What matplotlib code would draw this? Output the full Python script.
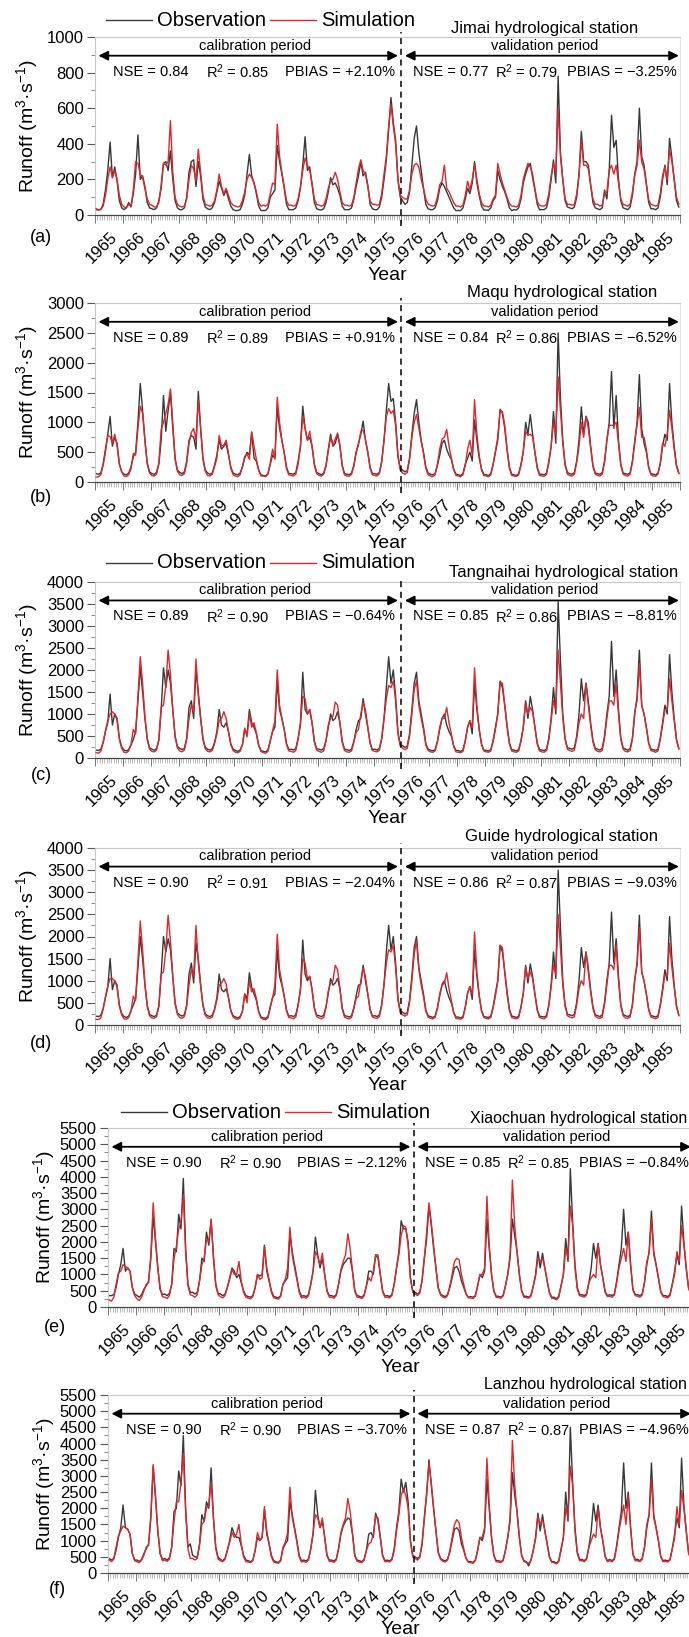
import numpy as np
import matplotlib
matplotlib.use("Agg")
import matplotlib.pyplot as plt
from matplotlib.lines import Line2D
from matplotlib.ticker import MultipleLocator, FixedLocator, NullFormatter

plt.rcParams['font.family'] = ['Liberation Sans', 'DejaVu Sans']
plt.rcParams['mathtext.fontset'] = 'custom'
plt.rcParams['mathtext.rm'] = 'Liberation Sans'
plt.rcParams['mathtext.it'] = 'Liberation Sans:italic'
plt.rcParams['mathtext.bf'] = 'Liberation Sans:bold'

W, H = 689, 1637
years = list(range(1965, 1986))

# monthly runoff (m3/s), Jan..Dec for each year 1965-1985
jimai_obs = [
    30, 28, 32, 60, 140, 250, 410, 210, 270, 190, 80, 40,
    30, 40, 70, 45, 120, 230, 450, 200, 220, 160, 70, 40,
    35, 30, 40, 80, 150, 290, 300, 250, 360, 200, 80, 40,
    30, 30, 40, 100, 240, 300, 310, 160, 300, 220, 90, 45,
    35, 30, 40, 70, 130, 190, 150, 110, 140, 90, 50, 30,
    25, 25, 30, 60, 110, 230, 340, 220, 180, 120, 50, 25,
    25, 25, 40, 100, 120, 140, 390, 300, 230, 150, 60, 30,
    30, 30, 40, 80, 150, 280, 440, 250, 270, 170, 70, 35,
    30, 28, 35, 70, 130, 210, 170, 180, 150, 110, 50, 30,
    30, 30, 40, 90, 160, 220, 300, 220, 240, 170, 60, 35,
    30, 30, 45, 100, 200, 310, 480, 660, 520, 420, 200, 100,
    80, 60, 70, 130, 280, 430, 500, 350, 250, 150, 60, 35,
    30, 30, 40, 80, 150, 180, 160, 130, 100, 70, 40, 25,
    25, 25, 40, 90, 150, 120, 180, 300, 180, 110, 50, 28,
    28, 26, 40, 80, 100, 250, 200, 160, 130, 90, 40, 25,
    30, 28, 40, 90, 180, 230, 270, 290, 210, 140, 60, 30,
    30, 30, 40, 100, 200, 310, 180, 780, 350, 200, 80, 45,
    40, 35, 45, 100, 230, 470, 300, 300, 280, 170, 70, 40,
    35, 30, 40, 140, 90, 250, 560, 380, 420, 200, 80, 40,
    35, 30, 45, 110, 230, 300, 600, 330, 280, 180, 70, 35,
    35, 30, 40, 100, 200, 280, 170, 430, 320, 200, 80, 45,
]
jimai_sim = [
    35, 30, 30, 50, 110, 200, 270, 210, 250, 200, 110, 60,
    45, 40, 60, 50, 140, 300, 290, 230, 210, 150, 90, 60,
    55, 45, 45, 70, 170, 290, 280, 300, 530, 240, 100, 60,
    50, 45, 50, 90, 200, 280, 260, 190, 370, 240, 110, 60,
    55, 50, 55, 80, 140, 230, 160, 120, 150, 110, 70, 55,
    50, 45, 50, 80, 130, 200, 230, 210, 180, 130, 70, 50,
    55, 50, 60, 120, 180, 170, 510, 330, 240, 160, 80, 55,
    55, 50, 55, 90, 160, 250, 320, 280, 250, 180, 90, 60,
    55, 50, 55, 90, 150, 190, 200, 240, 200, 130, 70, 55,
    55, 50, 55, 100, 180, 260, 310, 250, 230, 160, 80, 60,
    60, 55, 60, 120, 230, 330, 500, 620, 500, 400, 200, 110,
    100, 90, 90, 140, 230, 280, 290, 270, 200, 150, 90, 60,
    55, 50, 55, 100, 170, 190, 280, 150, 130, 100, 70, 50,
    50, 45, 55, 110, 190, 140, 200, 280, 200, 120, 70, 50,
    50, 45, 55, 90, 110, 290, 230, 180, 140, 100, 65, 50,
    50, 45, 55, 110, 200, 250, 290, 270, 230, 150, 75, 55,
    50, 50, 60, 120, 220, 290, 240, 600, 330, 200, 90, 60,
    60, 55, 60, 120, 220, 420, 280, 280, 260, 170, 90, 60,
    60, 50, 55, 120, 130, 250, 280, 230, 280, 180, 90, 60,
    55, 50, 60, 130, 220, 280, 420, 300, 260, 170, 85, 60,
    55, 50, 55, 120, 220, 270, 200, 370, 300, 200, 100, 60,
]
maqu_obs = [
    140, 130, 150, 300, 550, 800, 1100, 600, 750, 650, 300, 170,
    130, 120, 150, 250, 420, 500, 1000, 1650, 1200, 700, 320, 170,
    140, 130, 160, 300, 700, 1450, 850, 1200, 1500, 900, 400, 200,
    160, 140, 170, 350, 700, 780, 750, 550, 1520, 900, 400, 200,
    150, 130, 150, 280, 450, 700, 550, 600, 650, 450, 250, 150,
    130, 120, 150, 250, 400, 500, 450, 830, 400, 350, 200, 120,
    110, 100, 140, 300, 450, 400, 1250, 900, 700, 500, 250, 140,
    140, 130, 160, 350, 600, 1270, 900, 700, 750, 600, 300, 160,
    140, 120, 150, 280, 550, 800, 600, 650, 800, 600, 280, 140,
    130, 120, 150, 280, 500, 650, 800, 1020, 700, 500, 250, 140,
    140, 130, 160, 350, 700, 1200, 1650, 1350, 1400, 1000, 450, 220,
    200, 170, 190, 400, 800, 1150, 1380, 1000, 700, 500, 250, 150,
    130, 120, 140, 280, 450, 650, 700, 550, 450, 380, 220, 130,
    120, 110, 140, 300, 400, 500, 350, 1040, 700, 400, 220, 130,
    120, 110, 140, 300, 500, 700, 1220, 1150, 900, 550, 250, 130,
    120, 110, 140, 300, 500, 1000, 800, 1130, 800, 500, 250, 130,
    130, 120, 150, 350, 600, 1180, 650, 2500, 1400, 700, 300, 160,
    140, 130, 160, 350, 700, 1260, 800, 1100, 1000, 600, 280, 150,
    140, 130, 160, 350, 700, 1000, 1850, 900, 1450, 700, 300, 150,
    140, 130, 150, 350, 650, 1000, 1800, 900, 650, 500, 250, 140,
    130, 120, 150, 300, 600, 800, 700, 1650, 1000, 600, 280, 150,
]
maqu_sim = [
    80, 90, 120, 280, 500, 780, 760, 650, 800, 600, 300, 170,
    100, 90, 120, 220, 480, 450, 900, 1270, 1150, 700, 300, 150,
    110, 100, 130, 320, 880, 1000, 1150, 1300, 1560, 1000, 380, 180,
    120, 110, 140, 320, 650, 830, 900, 700, 1380, 900, 380, 180,
    110, 100, 130, 260, 400, 780, 600, 620, 700, 480, 230, 120,
    100, 90, 120, 260, 430, 470, 380, 840, 600, 380, 200, 100,
    100, 90, 130, 320, 550, 380, 1420, 1000, 700, 480, 220, 120,
    110, 100, 130, 300, 600, 1100, 900, 700, 850, 600, 280, 140,
    110, 100, 130, 260, 520, 750, 620, 720, 820, 620, 260, 120,
    100, 95, 130, 260, 500, 620, 850, 870, 720, 500, 230, 120,
    110, 100, 140, 330, 700, 1100, 1230, 1150, 1200, 950, 420, 200,
    150, 130, 160, 380, 750, 1000, 1130, 900, 680, 480, 230, 120,
    100, 90, 120, 300, 550, 720, 750, 880, 600, 400, 200, 110,
    100, 90, 120, 280, 550, 700, 450, 1380, 800, 450, 200, 110,
    100, 90, 120, 290, 520, 750, 1200, 1180, 950, 550, 230, 110,
    100, 95, 120, 280, 520, 850, 780, 800, 760, 500, 230, 110,
    100, 95, 130, 320, 600, 1000, 800, 1760, 1200, 650, 280, 130,
    110, 100, 130, 330, 600, 1000, 750, 1100, 900, 580, 260, 130,
    110, 100, 130, 330, 700, 950, 950, 950, 1000, 650, 280, 130,
    110, 100, 130, 330, 700, 950, 1250, 750, 750, 550, 240, 120,
    100, 95, 130, 320, 650, 600, 800, 1200, 900, 550, 260, 140,
]
tangnaihai_obs = [
    180, 170, 200, 350, 600, 800, 1450, 750, 1000, 900, 450, 250,
    180, 160, 190, 300, 420, 600, 1300, 2050, 1500, 900, 450, 230,
    200, 180, 210, 400, 1100, 2050, 1600, 2000, 1700, 1100, 500, 260,
    220, 190, 220, 450, 1150, 1300, 900, 2000, 1500, 900, 450, 240,
    200, 180, 210, 350, 600, 1100, 750, 700, 800, 600, 320, 200,
    170, 150, 180, 300, 650, 550, 1100, 800, 700, 550, 300, 170,
    150, 140, 180, 400, 600, 700, 1750, 1100, 900, 650, 330, 190,
    200, 180, 220, 450, 800, 1950, 1100, 1000, 1100, 800, 380, 210,
    200, 180, 210, 400, 700, 1000, 850, 900, 1050, 800, 380, 200,
    190, 170, 200, 380, 650, 850, 900, 1350, 1000, 700, 350, 190,
    200, 180, 220, 450, 900, 1600, 2300, 1700, 2000, 1400, 600, 300,
    280, 240, 270, 550, 1100, 1700, 1950, 1300, 1000, 700, 330, 200,
    180, 160, 190, 380, 650, 900, 1000, 750, 600, 500, 280, 170,
    170, 150, 180, 400, 700, 850, 550, 1700, 1100, 650, 320, 180,
    170, 160, 190, 400, 700, 1000, 1750, 1600, 1200, 750, 350, 190,
    180, 160, 190, 400, 700, 1300, 900, 1400, 1100, 700, 340, 190,
    180, 170, 200, 450, 900, 1600, 1000, 3550, 2200, 1000, 450, 230,
    220, 200, 230, 500, 1000, 1800, 1300, 1700, 1300, 800, 400, 220,
    200, 180, 220, 500, 1000, 1400, 2650, 1400, 2000, 1100, 450, 230,
    200, 180, 210, 450, 1000, 1400, 2450, 1200, 1000, 700, 350, 200,
    190, 170, 200, 450, 800, 1200, 1000, 2350, 1500, 900, 420, 220,
]
tangnaihai_sim = [
    120, 110, 150, 350, 620, 850, 1000, 1050, 1000, 850, 420, 220,
    130, 120, 160, 300, 650, 550, 1400, 2300, 1700, 950, 420, 200,
    150, 140, 180, 420, 1150, 1200, 1650, 2450, 1900, 1100, 480, 230,
    160, 140, 180, 420, 900, 1200, 1050, 2250, 1400, 900, 420, 210,
    150, 140, 170, 330, 550, 850, 900, 1050, 900, 600, 300, 170,
    130, 120, 150, 300, 680, 480, 1000, 700, 800, 580, 280, 150,
    120, 110, 150, 380, 600, 850, 2000, 1200, 900, 650, 300, 160,
    150, 130, 170, 430, 750, 1400, 1350, 1000, 1100, 800, 360, 180,
    150, 130, 160, 380, 750, 900, 950, 1270, 1200, 800, 350, 170,
    140, 130, 160, 360, 580, 650, 1000, 1250, 1100, 700, 330, 170,
    150, 140, 180, 430, 900, 1350, 1650, 1600, 1750, 1300, 550, 270,
    220, 190, 220, 500, 1000, 1550, 1750, 1200, 900, 650, 300, 170,
    140, 130, 160, 360, 700, 900, 900, 1150, 800, 550, 260, 140,
    130, 120, 150, 380, 700, 850, 700, 2050, 1200, 650, 300, 160,
    140, 130, 160, 380, 650, 1000, 1720, 1700, 1200, 700, 320, 160,
    140, 130, 160, 380, 700, 1250, 1000, 1150, 1050, 700, 320, 160,
    140, 130, 170, 420, 850, 1300, 1100, 2450, 1700, 900, 420, 200,
    170, 150, 180, 450, 800, 1000, 900, 1700, 1200, 750, 360, 190,
    150, 140, 170, 460, 900, 1300, 1300, 1200, 1700, 1000, 420, 200,
    150, 140, 170, 430, 1050, 1300, 2150, 1200, 1000, 700, 330, 170,
    150, 130, 160, 420, 750, 1100, 1100, 1800, 1300, 850, 400, 200,
]
guide_obs = [
    200, 190, 220, 370, 620, 850, 1500, 800, 1000, 900, 450, 260,
    190, 170, 200, 320, 450, 600, 1300, 2000, 1500, 900, 450, 240,
    210, 190, 220, 420, 1150, 2000, 1650, 1950, 1700, 1100, 500, 270,
    230, 200, 230, 460, 1150, 1400, 950, 1850, 1500, 900, 460, 250,
    210, 190, 220, 360, 620, 1150, 800, 750, 820, 620, 330, 210,
    180, 160, 190, 310, 700, 600, 1180, 850, 700, 560, 310, 180,
    160, 150, 190, 420, 620, 700, 1700, 1100, 900, 650, 340, 200,
    210, 190, 230, 460, 820, 1920, 1150, 1000, 1100, 800, 390, 220,
    210, 190, 220, 410, 720, 1050, 900, 950, 1050, 820, 390, 210,
    200, 180, 210, 390, 660, 900, 920, 1350, 1000, 700, 360, 200,
    210, 190, 230, 460, 920, 1650, 2250, 1700, 2000, 1400, 600, 310,
    290, 250, 280, 560, 1100, 1750, 2000, 1300, 1000, 700, 340, 210,
    190, 170, 200, 390, 660, 920, 1000, 780, 620, 500, 290, 180,
    180, 160, 190, 410, 720, 870, 580, 1700, 1100, 660, 330, 190,
    180, 170, 200, 410, 720, 1000, 1800, 1650, 1200, 760, 360, 200,
    190, 170, 200, 410, 720, 1350, 950, 1380, 1100, 700, 350, 200,
    190, 180, 210, 460, 920, 1650, 1050, 3500, 2200, 1000, 460, 240,
    230, 210, 240, 510, 1000, 1750, 1300, 1650, 1300, 800, 410, 230,
    210, 190, 230, 510, 1000, 1400, 2550, 1400, 1950, 1100, 460, 240,
    210, 190, 220, 460, 1000, 1400, 2480, 1200, 1000, 700, 360, 210,
    200, 180, 210, 460, 820, 1250, 1000, 2450, 1500, 900, 430, 230,
]
guide_sim = [
    130, 120, 160, 360, 640, 880, 1050, 1050, 1000, 850, 420, 230,
    140, 130, 170, 310, 650, 560, 1450, 2350, 1700, 950, 420, 210,
    160, 150, 190, 430, 1150, 1200, 1700, 2480, 1900, 1100, 480, 240,
    170, 150, 190, 430, 900, 1250, 1100, 2250, 1400, 900, 430, 220,
    160, 150, 180, 340, 560, 900, 950, 1050, 920, 620, 310, 180,
    140, 130, 160, 310, 700, 500, 1000, 750, 820, 600, 290, 160,
    130, 120, 160, 390, 620, 900, 2050, 1250, 950, 660, 310, 170,
    160, 140, 180, 440, 780, 1500, 1400, 1050, 1100, 800, 370, 190,
    160, 140, 170, 390, 770, 950, 1000, 1350, 1250, 820, 360, 180,
    150, 140, 170, 370, 600, 650, 1000, 1280, 1100, 700, 340, 180,
    160, 150, 190, 440, 920, 1400, 1700, 1650, 1800, 1300, 560, 280,
    230, 200, 230, 510, 1000, 1600, 1900, 1250, 900, 650, 310, 180,
    150, 140, 170, 370, 700, 900, 950, 1180, 820, 560, 270, 150,
    140, 130, 160, 390, 720, 870, 700, 2100, 1200, 660, 310, 170,
    150, 140, 170, 390, 660, 1000, 1800, 1750, 1200, 700, 330, 170,
    150, 140, 170, 390, 720, 1300, 1050, 1200, 1050, 700, 330, 170,
    150, 140, 180, 430, 870, 1350, 1150, 2500, 1750, 900, 430, 210,
    180, 160, 190, 460, 820, 1000, 900, 1650, 1200, 750, 370, 200,
    160, 150, 180, 470, 920, 1350, 1350, 1250, 1800, 1000, 430, 210,
    160, 150, 180, 440, 1050, 1350, 2200, 1200, 1000, 700, 340, 180,
    160, 140, 170, 430, 760, 1150, 1100, 1850, 1300, 850, 410, 210,
]
xiaochuan_obs = [
    350, 350, 380, 600, 1000, 1300, 1800, 1100, 1200, 1100, 600, 400,
    350, 300, 380, 550, 650, 800, 1500, 2800, 2000, 1200, 550, 380,
    400, 350, 420, 700, 1800, 1700, 2850, 2400, 3950, 1800, 700, 450,
    450, 400, 450, 800, 1500, 1400, 2300, 1900, 2700, 1500, 700, 420,
    400, 350, 400, 600, 900, 1200, 1100, 900, 1000, 750, 500, 350,
    320, 300, 350, 600, 1000, 950, 1000, 1900, 1100, 800, 500, 330,
    300, 280, 350, 700, 800, 900, 2200, 1700, 1300, 900, 500, 330,
    350, 320, 380, 700, 1100, 2150, 1600, 1200, 1500, 1000, 500, 350,
    350, 320, 380, 700, 1100, 1300, 1400, 1500, 1500, 1100, 500, 350,
    330, 300, 370, 650, 1100, 1100, 1000, 1600, 1500, 1000, 500, 340,
    350, 320, 380, 700, 1200, 1700, 2650, 2400, 2400, 2000, 900, 500,
    450, 400, 450, 800, 1500, 2100, 3100, 2500, 1800, 1200, 600, 400,
    350, 320, 380, 600, 900, 1200, 1250, 1100, 800, 600, 400, 300,
    320, 300, 350, 650, 1000, 900, 1100, 2700, 1800, 1000, 500, 330,
    330, 300, 360, 650, 1000, 1500, 2700, 2200, 1700, 1000, 500, 330,
    330, 300, 360, 650, 1000, 1700, 1200, 1650, 1200, 800, 450, 300,
    300, 250, 330, 650, 1000, 2100, 1400, 4250, 2600, 1300, 600, 380,
    380, 350, 400, 750, 1200, 1950, 1500, 1950, 1300, 900, 480, 350,
    380, 350, 400, 800, 1300, 1800, 3000, 1900, 2300, 1300, 550, 380,
    380, 350, 400, 750, 1300, 1700, 2950, 1700, 1300, 900, 480, 350,
    350, 320, 380, 700, 1100, 1600, 1300, 3100, 2000, 1200, 600, 400,
]
xiaochuan_sim = [
    220, 180, 300, 700, 1050, 1100, 1300, 1250, 1200, 1100, 600, 350,
    250, 200, 300, 500, 700, 750, 1600, 3200, 2100, 1200, 550, 320,
    300, 260, 350, 700, 1500, 1850, 2400, 2600, 3450, 1700, 650, 380,
    350, 300, 380, 800, 1300, 1500, 2100, 2000, 2650, 1600, 650, 380,
    320, 280, 350, 600, 850, 1150, 1000, 1000, 1400, 800, 450, 300,
    270, 250, 320, 600, 1000, 850, 900, 1850, 1200, 850, 450, 280,
    260, 240, 320, 700, 850, 1200, 2450, 1600, 1200, 850, 450, 280,
    300, 270, 350, 700, 1100, 1700, 1550, 1300, 1650, 1000, 480, 300,
    300, 270, 350, 700, 1150, 1400, 1600, 2250, 1800, 1100, 480, 300,
    290, 260, 340, 650, 900, 800, 1100, 1600, 1600, 1000, 470, 300,
    300, 280, 350, 700, 1200, 1600, 2200, 2500, 2450, 1900, 850, 450,
    400, 350, 420, 800, 1500, 2300, 3200, 2600, 1900, 1200, 580, 370,
    300, 280, 350, 650, 1000, 1400, 1500, 1450, 1000, 700, 400, 280,
    280, 260, 330, 650, 1000, 1000, 1200, 3400, 1900, 1000, 480, 300,
    290, 270, 340, 650, 1000, 1600, 3900, 2500, 1700, 1000, 480, 300,
    290, 270, 330, 630, 950, 1500, 1400, 1500, 1200, 800, 420, 270,
    260, 220, 300, 650, 1000, 1800, 1500, 3100, 2500, 1200, 550, 350,
    330, 300, 370, 750, 900, 1000, 900, 1950, 1300, 900, 450, 320,
    330, 300, 370, 750, 1200, 1500, 1800, 1400, 2300, 1300, 520, 350,
    330, 300, 370, 750, 1400, 1650, 2700, 1600, 1300, 900, 460, 320,
    300, 280, 350, 700, 1000, 1700, 1400, 2500, 1900, 1200, 580, 380,
]
lanzhou_obs = [
    450, 400, 450, 700, 1100, 1400, 2100, 1400, 1350, 1200, 600, 400,
    400, 350, 420, 600, 750, 900, 1700, 3300, 2300, 1300, 600, 420,
    450, 400, 470, 800, 1900, 2000, 3150, 2700, 4250, 2000, 800, 900,
    550, 500, 480, 900, 1800, 1600, 2200, 2000, 3250, 1700, 800, 480,
    420, 380, 450, 700, 1000, 1400, 1200, 1100, 1100, 850, 550, 400,
    380, 350, 400, 700, 1100, 1000, 1100, 1950, 1200, 900, 550, 380,
    350, 320, 400, 750, 900, 1000, 2200, 1800, 1400, 1000, 550, 380,
    400, 370, 430, 750, 1200, 2550, 1800, 1400, 1600, 1100, 550, 400,
    400, 370, 430, 750, 1200, 1450, 1600, 1700, 1650, 1200, 550, 400,
    380, 350, 420, 700, 1200, 1250, 1100, 1850, 1600, 1100, 550, 380,
    400, 370, 430, 750, 1400, 1900, 2900, 2500, 2800, 2200, 1000, 550,
    500, 450, 500, 900, 1700, 2400, 3500, 2700, 2000, 1300, 650, 450,
    400, 370, 420, 650, 1000, 1350, 1400, 1300, 900, 700, 450, 350,
    350, 330, 400, 700, 1100, 1000, 1300, 2900, 2000, 1100, 550, 380,
    380, 350, 400, 700, 1100, 1600, 3100, 2400, 1900, 1100, 550, 380,
    350, 220, 400, 700, 1100, 1850, 1300, 1800, 1300, 900, 500, 350,
    350, 300, 380, 750, 1100, 2500, 1600, 4500, 2800, 1400, 650, 420,
    420, 380, 450, 800, 1300, 2150, 1600, 2100, 1400, 1000, 520, 380,
    420, 380, 450, 850, 1400, 1900, 3400, 2000, 2500, 1400, 600, 420,
    420, 380, 450, 800, 1400, 1800, 3400, 1800, 1400, 1000, 520, 380,
    400, 370, 420, 750, 1200, 1700, 1400, 3550, 2100, 1300, 650, 430,
]
lanzhou_sim = [
    400, 350, 430, 800, 1150, 1300, 1450, 1400, 1350, 1200, 600, 380,
    350, 320, 400, 550, 800, 850, 1800, 3350, 2400, 1300, 600, 380,
    400, 360, 430, 800, 1600, 2200, 2200, 2800, 3700, 1900, 750, 450,
    450, 400, 450, 850, 1500, 1600, 2000, 2100, 2800, 1700, 750, 430,
    380, 350, 420, 700, 950, 1250, 1100, 1200, 1500, 900, 500, 350,
    340, 320, 380, 700, 1250, 1000, 1100, 2050, 1300, 900, 500, 340,
    320, 300, 370, 800, 950, 1250, 2650, 1700, 1350, 950, 500, 340,
    360, 330, 400, 750, 1250, 1800, 1700, 1400, 1700, 1100, 530, 360,
    360, 330, 400, 750, 1250, 1500, 1700, 2300, 1900, 1200, 530, 360,
    340, 320, 390, 700, 900, 950, 1200, 1750, 1700, 1100, 520, 350,
    360, 340, 400, 700, 1300, 1800, 2400, 2600, 2400, 2000, 950, 500,
    450, 400, 470, 850, 1700, 2500, 3400, 2800, 2000, 1300, 620, 420,
    360, 340, 400, 700, 1100, 1500, 1650, 1550, 1100, 750, 450, 330,
    320, 300, 380, 700, 1100, 1100, 1400, 3550, 2100, 1100, 530, 350,
    340, 320, 380, 700, 1100, 1700, 4100, 2700, 1900, 1100, 530, 350,
    330, 300, 380, 700, 1050, 1750, 1500, 1650, 1300, 900, 480, 330,
    320, 280, 350, 700, 1100, 2000, 1700, 3300, 2700, 1300, 600, 380,
    380, 350, 420, 800, 1000, 1200, 1100, 2000, 1400, 1000, 500, 350,
    380, 350, 420, 800, 1300, 1700, 2100, 1500, 2400, 1400, 570, 380,
    380, 350, 420, 800, 1500, 1800, 2900, 1700, 1400, 1000, 500, 350,
    360, 340, 400, 750, 1100, 2050, 1500, 2550, 2000, 1300, 620, 400,
]

station_names = ["Jimai", "Maqu", "Tangnaihai", "Guide", "Xiaochuan", "Lanzhou"]
panel_letters = ["(a)", "(b)", "(c)", "(d)", "(e)", "(f)"]
y_max = [1000, 3000, 4000, 4000, 5500, 5500]
y_major = [200, 500, 500, 500, 500, 500]
y_minor = [100, 250, 250, 250, 250, 250]
nse_cal = ["0.84", "0.89", "0.89", "0.90", "0.90", "0.90"]
r2_cal = ["0.85", "0.89", "0.90", "0.91", "0.90", "0.90"]
pbias_cal = ["+2.10%", "+0.91%", "\u22120.64%", "\u22122.04%", "\u22122.12%", "\u22123.70%"]
nse_val = ["0.77", "0.84", "0.85", "0.86", "0.85", "0.87"]
r2_val = ["0.79", "0.86", "0.86", "0.87", "0.85", "0.87"]
pbias_val = ["\u22123.25%", "\u22126.52%", "\u22128.81%", "\u22129.03%", "\u22120.84%", "\u22124.96%"]

obs_series = [jimai_obs, maqu_obs, tangnaihai_obs, guide_obs, xiaochuan_obs, lanzhou_obs]
sim_series = [jimai_sim, maqu_sim, tangnaihai_sim, guide_sim, xiaochuan_sim, lanzhou_sim]

# layout in pixels: (left, top, right, bottom) of each plot box
boxes = [(95, 37, 680, 215), (95, 303, 680, 482), (95, 582, 680, 758),
         (95, 848, 680, 1025), (108, 1128, 692, 1307), (108, 1395, 692, 1573)]
letter_pos = [(41, 238), (41, 497), (41, 776), (41, 1043), (55, 1328), (57, 1590)]
year_lab_y = [276, 543, 819, 1086, 1368, 1630]
ylab_x = [27, 27, 27, 27, 44, 44]
title_pos = [(638, 28), (657, 293), (678, 572), (658, 837), (687, 1118), (687, 1385)]
title_size = [12, 12, 12, 12, 11.5, 11.5]
legend_y = {0: 20, 2: 563, 4: 1112}

OBS_C = "#383838"
SIM_C = "#e0262b"

fig = plt.figure(figsize=(W / 100, H / 100), dpi=100)


def px_axes(box):
    l, t, r, b = box
    return fig.add_axes([l / W, 1 - b / H, (r - l) / W, (b - t) / H])


def fx(x):
    return x / W


def fy(y):
    return 1 - y / H


x = np.arange(252) + 0.5
split = 132
TXT = 10.5

for i in range(6):
    ax = px_axes(boxes[i])
    ax.plot(x, obs_series[i], color=OBS_C, lw=1.0, zorder=2)
    ax.plot(x, sim_series[i], color=SIM_C, lw=1.0, zorder=3)
    ax.set_xlim(0, 252)
    ax.set_ylim(0, y_max[i])

    ax.yaxis.set_major_locator(MultipleLocator(y_major[i]))
    ax.yaxis.set_minor_locator(MultipleLocator(y_minor[i]))
    ax.xaxis.set_major_locator(FixedLocator(np.arange(0, 253, 12)))
    ax.xaxis.set_minor_locator(FixedLocator(np.arange(0, 253, 1)))
    ax.xaxis.set_major_formatter(NullFormatter())
    ax.tick_params(axis='y', which='major', length=6, width=0.8, color='#555555',
                   labelsize=12, pad=2)
    ax.tick_params(axis='y', which='minor', length=3, width=0.6, color='#777777')
    ax.tick_params(axis='x', which='major', length=6, width=0.7, color='#777777')
    ax.tick_params(axis='x', which='minor', length=3.5, width=0.4, color='#888888')

    for side in ['left', 'top', 'right']:
        ax.spines[side].set_color('#c8c8c8')
        ax.spines[side].set_linewidth(0.8)
    ax.spines['right'].set_color('#e4e4e4')
    ax.spines['bottom'].set_color('#444444')
    ax.spines['bottom'].set_linewidth(0.9)

    # year labels, centred on each year
    for k, yr in enumerate(years):
        ax.annotate(str(yr), xy=(12 * k + 6, 0), xycoords=('data', 'axes fraction'),
                    xytext=(0.5, -10), textcoords='offset points', rotation=45,
                    ha='right', va='top', rotation_mode='anchor', fontsize=12)

    # split line between calibration and validation
    ax.axvline(split, ymin=-0.06, ymax=1.03, color='k', lw=1.1,
               ls=(0, (4, 3)), clip_on=False, zorder=4)

    # period arrows
    arrow_kw = dict(arrowstyle='<|-|>', color='k', lw=1.3, mutation_scale=14,
                    shrinkA=0, shrinkB=0)
    ax.annotate('', xy=(1.5, 0.895), xytext=(split - 1.5, 0.895),
                xycoords=('data', 'axes fraction'), arrowprops=arrow_kw)
    ax.annotate('', xy=(split + 1.5, 0.895), xytext=(251.5, 0.895),
                xycoords=('data', 'axes fraction'), arrowprops=arrow_kw)
    ax.text(0.273, 0.952, 'calibration period', transform=ax.transAxes,
            ha='center', va='center', fontsize=10.5)
    ax.text(0.768, 0.952, 'validation period', transform=ax.transAxes,
            ha='center', va='center', fontsize=10.5)

    sy = 0.805
    ax.text(0.03, sy, 'NSE = ' + nse_cal[i], transform=ax.transAxes,
            ha='left', va='center', fontsize=TXT)
    ax.text(0.19, sy, 'R$^{2}$ = ' + r2_cal[i], transform=ax.transAxes,
            ha='left', va='center', fontsize=TXT)
    ax.text(0.324, sy, 'PBIAS = ' + pbias_cal[i], transform=ax.transAxes,
            ha='left', va='center', fontsize=TXT)
    ax.text(0.543, sy, 'NSE = ' + nse_val[i], transform=ax.transAxes,
            ha='left', va='center', fontsize=TXT)
    ax.text(0.684, sy, 'R$^{2}$ = ' + r2_val[i], transform=ax.transAxes,
            ha='left', va='center', fontsize=TXT)
    ax.text(0.806, sy, 'PBIAS = ' + pbias_val[i], transform=ax.transAxes,
            ha='left', va='center', fontsize=TXT)

    l, t, r, b = boxes[i]
    fig.text(fx(ylab_x[i]), fy((t + b) / 2), 'Runoff (m$^{3}$\u00b7s$^{-1}$)',
             rotation=90, ha='center', va='center', fontsize=14)
    fig.text(fx((l + r) / 2), fy(year_lab_y[i]), 'Year', ha='center', va='center',
             fontsize=14)
    fig.text(fx(letter_pos[i][0]), fy(letter_pos[i][1]), panel_letters[i],
             ha='center', va='center', fontsize=13)
    fig.text(fx(title_pos[i][0]), fy(title_pos[i][1]),
             station_names[i] + ' hydrological station', ha='right', va='center',
             fontsize=title_size[i])

    if i in legend_y:
        ly = fy(legend_y[i])
        off = 0 if i < 4 else 15
        fig.add_artist(Line2D([fx(106 + off), fx(152 + off)], [ly, ly], color=OBS_C, lw=1.0))
        fig.text(fx(157 + off), ly, 'Observation', ha='left', va='center', fontsize=14.5)
        fig.add_artist(Line2D([fx(270 + off), fx(316 + off)], [ly, ly], color=SIM_C, lw=1.0))
        fig.text(fx(321 + off), ly, 'Simulation', ha='left', va='center', fontsize=14.5)

fig.savefig('out.png', dpi=100)
